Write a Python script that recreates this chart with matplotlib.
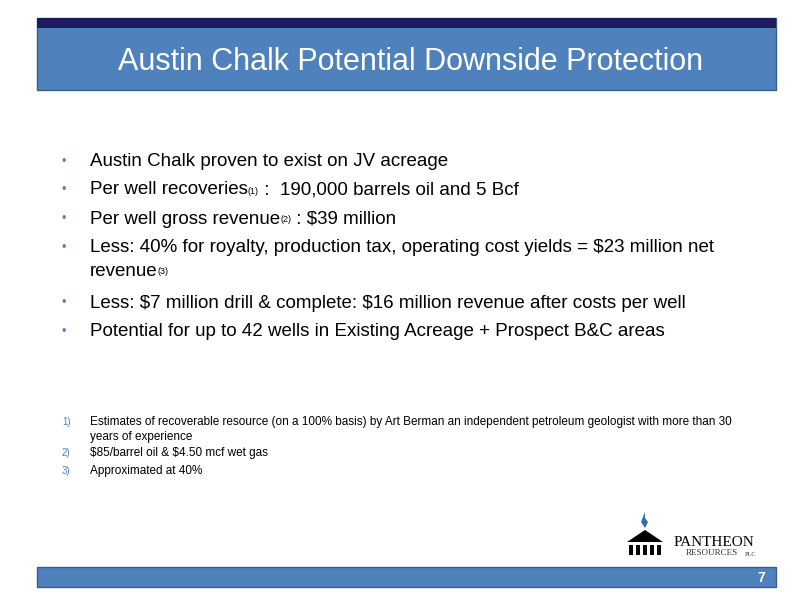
import matplotlib
matplotlib.use("Agg")
import matplotlib.pyplot as plt
from matplotlib.patches import Rectangle, Polygon
plt.rcParams["text.parse_math"] = False

title = "Austin Chalk Potential Downside Protection"
bullets = [
    [("Austin Chalk proven to exist on JV acreage", 0)],
    [("Per well recoveries", 0), ("(1)", 1), (" :  190,000 barrels oil and 5 Bcf", 0)],
    [("Per well gross revenue", 0), ("(2)", 1), (" : $39 million", 0)],
    [("Less: 40% for royalty, production tax, operating cost yields = $23 million net", 0)],
    [("revenue", 0), ("(3)", 1)],
    [("Less: $7 million drill & complete: $16 million revenue after costs per well", 0)],
    [("Potential for up to 42 wells in Existing Acreage + Prospect B&C areas", 0)],
]
bullet_y = [162, 190, 219, 248, 271, 303, 332]
has_dot = [1, 1, 1, 1, 0, 1, 1]
notes = [("1)", "Estimates of recoverable resource (on a 100% basis) by Art Berman an independent petroleum geologist with more than 30"),
         ("", "years of experience"),
         ("2)", "$85/barrel oil & $4.50 mcf wet gas"),
         ("3)", "Approximated at 40%")]
note_y = [422, 437, 453, 471]

W, H = 800, 600
fig = plt.figure(figsize=(8, 6), dpi=100)
ax = fig.add_axes([0, 0, 1, 1])
ax.set_xlim(0, W); ax.set_ylim(H, 0); ax.axis("off")
FONT = "Liberation Sans"

ax.add_patch(Rectangle((37, 18), 739, 72, facecolor="#4f81bd", edgecolor="#385d8a", lw=1))
ax.add_patch(Rectangle((37, 18), 739, 10, facecolor="#1c1c5e", edgecolor="none"))
ax.text(411, 62, title, color="white", fontsize=22, family=FONT, ha="center", va="center")

ax.add_patch(Rectangle((37, 567), 739, 20, facecolor="#4f81bd", edgecolor="#385d8a", lw=1))
ax.text(765, 578, "7", color="white", fontsize=10, weight="bold", family=FONT, ha="right", va="center")

fig.canvas.draw()
r = fig.canvas.get_renderer()
for line, y, d in zip(bullets, bullet_y, has_dot):
    if d:
        ax.text(62, y, "•", color="#4f81bd", fontsize=9, family=FONT, va="center")
    x = 90
    for s, sup in line:
        if sup:
            t = ax.text(x, y + 1, s, fontsize=6.5, family=FONT, va="center", color="black")
        else:
            t = ax.text(x, y, s, fontsize=13.5, family=FONT, va="center", color="black")
        bb = t.get_window_extent(r)
        x += bb.width
for (n, s), y in zip(notes, note_y):
    if n:
        ax.text(62, y, n, color="#4f81bd", fontsize=7, family=FONT, va="center")
    ax.text(90, y, s, fontsize=8.5, family=FONT, va="center")

# logo
ax.add_patch(Polygon([[641, 522], [645, 512], [645, 518], [648, 522], [645, 528]], closed=True, facecolor="#2e6db4"))
ax.add_patch(Polygon([[627, 542], [645, 530], [663, 542]], closed=True, facecolor="black"))
for i in range(5):
    ax.add_patch(Rectangle((629 + i * 7, 545), 4, 10, facecolor="black"))
ax.text(674, 542, "PANTHEON", fontsize=11, family="Liberation Serif", va="center")
ax.text(686, 553, "RESOURCES", fontsize=6.5, family="Liberation Serif", va="center", color="#333333")
ax.text(745, 554, "PLC", fontsize=4.5, family="Liberation Serif", va="center", color="#333333")

fig.savefig("out.png", dpi=100)
